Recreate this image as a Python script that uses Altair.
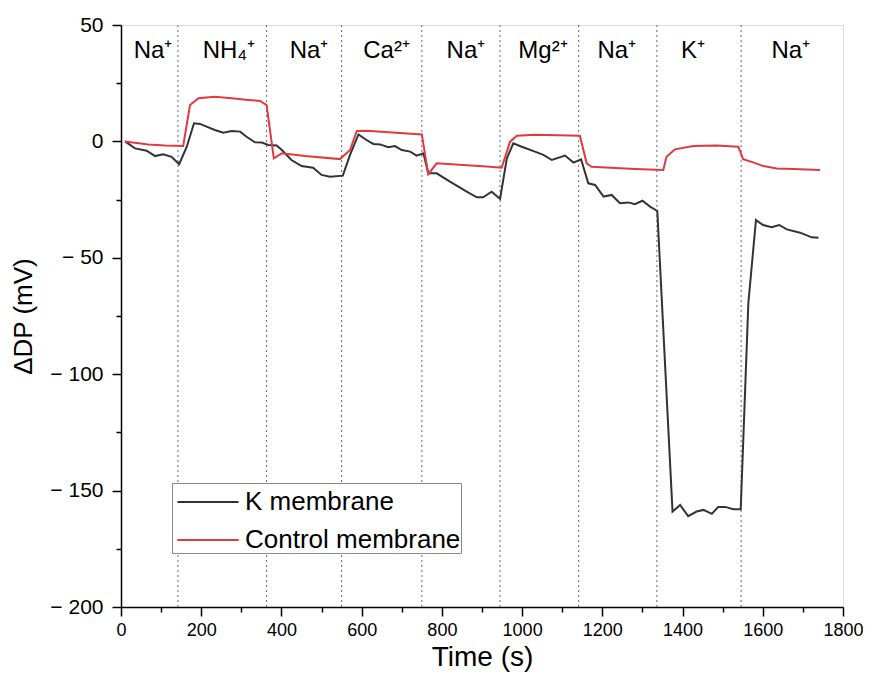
import altair as alt
import pandas as pd

# K membrane series
k_x = [10, 35, 64, 85, 105, 126, 145, 164, 182, 197, 218, 234, 255, 276, 297, 313, 334, 351, 367, 388,
       401, 425, 450, 479, 500, 521, 553, 571, 592, 612, 629, 646, 666, 683, 700, 721, 737, 754, 766, 787,
       820, 862, 887, 903, 924, 945, 962, 978, 999, 1032, 1053, 1074, 1107, 1128, 1147, 1165, 1182, 1203,
       1223, 1244, 1265, 1281, 1300, 1319, 1337, 1375, 1394, 1414, 1435, 1452, 1473, 1489, 1506, 1527,
       1545, 1564, 1583, 1601, 1622, 1641, 1660, 1693, 1722, 1739]
k_y = [0, -3, -4, -6.3, -5.5, -6.6, -9.8, -2.3, 7.8, 7.5, 6, 4.9, 3.7, 4.5, 4.2, 2, -0.4, -0.5, -1.5, -1.8,
       -3.7, -8, -10.6, -11.3, -14.4, -15.2, -14.7, -5.8, 3, 0.6, -1.1, -1.3, -2.5, -2, -3.7, -4.4, -6.1, -5.1,
       -13.7, -13.7, -17.3, -21.6, -24, -24, -21.6, -24.7, -7.3, -0.8, -2.3, -4.4, -5.8, -8, -6.1, -9.1, -7.7,
       -18, -18.7, -23.7, -23, -26.6, -26.2, -27, -25.5, -28, -29.9, -159, -156.2, -161, -159, -158.3, -160,
       -157, -157, -158, -158, -69.5, -33.8, -35.9, -36.9, -35.9, -37.8, -39.2, -41.2, -41.4]

# Control membrane series
c_x = [10, 68, 110, 155, 172, 193, 234, 276, 317, 347, 363, 381, 401, 459, 546, 571, 588, 612, 750, 766,
       787, 920, 949, 962, 970, 987, 1032, 1144, 1161, 1173, 1281, 1352, 1360, 1381, 1427, 1485, 1539, 1551,
       1576, 1601, 1635, 1676, 1743]
c_y = [0, -1.3, -1.8, -2, 15.6, 18.5, 19.2, 18.5, 17.8, 17.4, 15.6, -7.3, -5.1, -6.3, -7.6, -3.7, 4.5, 4.6,
       3, -14.1, -9.4, -10.9, -11.3, -4.4, -0.1, 2.4, 2.9, 2.4, -9.4, -10.9, -11.9, -12.3, -6.6, -3.4, -2, -1.8,
       -2.3, -7.6, -9, -10.6, -11.6, -11.9, -12.3]

series_names = ["K membrane", "Control membrane"]
series_colors = ["#333333", "#e0393e"]

# solution change times (dotted lines)
switch_times = [142, 363, 550, 750, 945, 1141, 1336, 1546]

# ion labels
ion_labels = ["Na⁺", "NH₄⁺", "Na⁺", "Ca²⁺", "Na⁺", "Mg²⁺", "Na⁺", "K⁺", "Na⁺"]
ion_x = [80, 269, 469, 662, 860, 1052, 1236, 1426, 1670]
ion_y = [35.8] * len(ion_labels)

lines_df = pd.DataFrame(
    {"t": k_x, "v": k_y, "s": [series_names[0]] * len(k_x)}
)
lines_df = pd.concat([
    lines_df,
    pd.DataFrame({"t": c_x, "v": c_y, "s": [series_names[1]] * len(c_x)}),
], ignore_index=True)

rules_df = pd.DataFrame({"t": switch_times})
ions_df = pd.DataFrame({"t": ion_x, "v": ion_y, "label": ion_labels})

FONT = "Liberation Sans"

x_scale = alt.Scale(domain=[0, 1800], nice=False, zero=False)
y_scale = alt.Scale(domain=[-200, 50], nice=False, zero=False)

x_axis = alt.Axis(
    title="Time (s)",
    values=list(range(0, 1801, 100)),
    labelExpr="datum.value % 200 === 0 ? datum.label : ''",
    format="d",
    grid=False,
    domainColor="black",
    domainWidth=1.5,
    tickColor="black",
    tickWidth=1.5,
    tickSize={"condition": {"test": "datum.value % 200 === 0", "value": 9}, "value": 5},
    labelFont=FONT,
    labelFontSize=18,
    labelColor="black",
    labelPadding=5,
    labelFlush=False,
    labelOverlap=False,
    titleFont=FONT,
    titleFontSize=28,
    titleFontWeight="normal",
    titleColor="black",
    titlePadding=4,
)
y_axis = alt.Axis(
    title="ΔDP (mV)",
    values=list(range(-200, 51, 25)),
    labelExpr="datum.value % 50 === 0 ? (datum.value < 0 ? '− ' + format(-datum.value, 'd') : format(datum.value, 'd')) : ''",
    grid=False,
    domainColor="black",
    domainWidth=1.5,
    tickColor="black",
    tickWidth=1.5,
    tickSize={"condition": {"test": "datum.value % 50 === 0", "value": 9}, "value": 5},
    labelFont=FONT,
    labelFontSize=21,
    labelColor="black",
    labelPadding=9,
    labelFlush=False,
    labelOverlap=False,
    titleFont=FONT,
    titleFontSize=26,
    titleFontWeight="normal",
    titleColor="black",
    titlePadding=13,
)

rules = alt.Chart(rules_df).mark_rule(
    color="#666666", strokeDash=[2, 3], strokeWidth=1
).encode(x=alt.X("t:Q", scale=x_scale, axis=x_axis))

lines = alt.Chart(lines_df).mark_line(strokeWidth=2).encode(
    x=alt.X("t:Q", scale=x_scale, axis=x_axis),
    y=alt.Y("v:Q", scale=y_scale, axis=y_axis),
    color=alt.Color(
        "s:N",
        scale=alt.Scale(domain=series_names, range=series_colors),
        legend=alt.Legend(
            title=None,
            orient="none",
            legendX=51,
            legendY=458,
            direction="vertical",
            symbolType="M-1.7,0H1.7",
            symbolSize=1296,
            symbolStrokeWidth=2,
            symbolOffset=17,
            symbolFillColor="transparent",
            labelOffset=18,
            labelFont=FONT,
            labelFontSize=26,
            labelColor="black",
            rowPadding=6,
            strokeColor="#888888",
            padding=0,
            fillColor="white",
            labelLimit=400,
        ),
    ),
    order=alt.Order("t:Q"),
    detail="s:N",
)

ions = alt.Chart(ions_df).mark_text(
    font=FONT, fontSize=24, color="black", align="center", baseline="alphabetic"
).encode(
    x=alt.X("t:Q", scale=x_scale),
    y=alt.Y("v:Q", scale=y_scale),
    text="label:N",
)

chart = alt.layer(rules, lines, ions).properties(
    width=722,
    height=582,
    autosize=alt.AutoSizeParams(type="none"),
    padding={"left": 113, "top": 17, "right": 20, "bottom": 78},
).configure_view(stroke="black", strokeWidth=1.5).configure(background="white")

chart.save("out.html", embed_options={"renderer": "svg", "actions": False})
